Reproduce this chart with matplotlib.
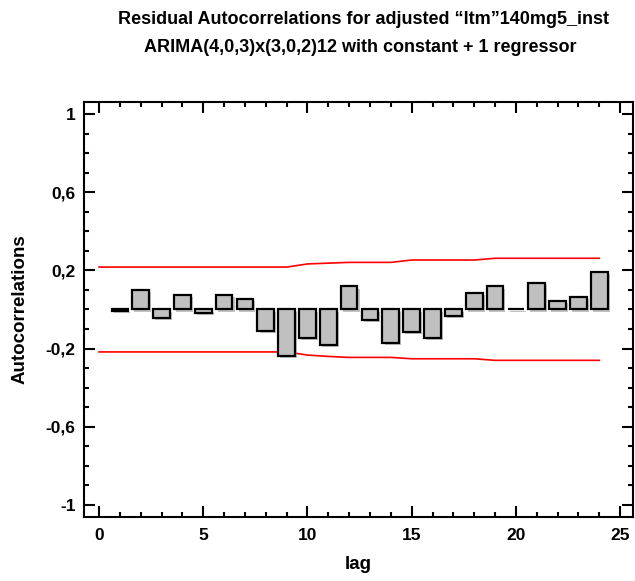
import matplotlib
matplotlib.use("Agg")
import matplotlib.pyplot as plt
import matplotlib.patheffects as pe
from matplotlib.ticker import MultipleLocator, FixedLocator

plt.rcParams["font.family"] = ["Liberation Sans Narrow", "Liberation Sans", "DejaVu Sans"]
plt.rcParams["font.weight"] = "bold"

# residual autocorrelations, lags 1..24
lags = list(range(1, 25))
acf = [-0.008, 0.100, -0.045, 0.073, -0.018, 0.073, 0.054, -0.108,
       -0.236, -0.144, -0.180, 0.118, -0.054, -0.173, -0.117, -0.144,
       -0.035, 0.083, 0.118, 0.003, 0.136, 0.045, 0.062, 0.190]

# probability limits, lags 0..24
limit_lags = list(range(0, 25))
upper = [0.217] * 10 + [0.233, 0.237, 0.241, 0.241, 0.241,
                        0.253, 0.253, 0.253, 0.253,
                        0.262, 0.262, 0.262, 0.262, 0.262, 0.262]
lower = [-0.217] * 10 + [-0.233, -0.240, -0.245, -0.245, -0.245,
                         -0.252, -0.252, -0.252, -0.252,
                         -0.260, -0.260, -0.260, -0.260, -0.260, -0.260]

fig = plt.figure(figsize=(6.35, 5.81), dpi=100)
ax = fig.add_axes([0.1323, 0.1102, 0.8646, 0.7142])

ax.plot(limit_lags, upper, color="red", lw=1.2, zorder=2)
ax.plot(limit_lags, lower, color="red", lw=1.2, zorder=2)

bars = ax.bar(lags, acf, width=0.8, color="#c0c0c0", edgecolor="black",
              linewidth=1.6, zorder=3)
for b in bars:
    b.set_path_effects([pe.SimplePatchShadow(offset=(1.5, -1.5),
                                             shadow_rgbFace="#888888", alpha=0.5),
                        pe.Normal()])

ax.set_xlim(-0.72, 25.62)
ax.set_ylim(-1.061, 1.061)
ax.xaxis.set_major_locator(MultipleLocator(5))
ax.xaxis.set_minor_locator(MultipleLocator(1))
ax.yaxis.set_major_locator(FixedLocator([-1, -0.6, -0.2, 0.2, 0.6, 1]))
ax.yaxis.set_minor_locator(MultipleLocator(0.1))
ax.set_yticklabels(["-1", "-0,6", "-0,2", "0,2", "0,6", "1"])

ax.tick_params(which="both", direction="in", top=True, right=True, width=1.5,
               labelsize=12.5)
ax.tick_params(which="major", length=8)
ax.tick_params(which="minor", length=3.5)
ax.tick_params(axis="x", pad=8)
ax.tick_params(axis="y", pad=6)
for s in ax.spines.values():
    s.set_linewidth(1.5)

ax.set_xlabel("lag", fontsize=13.5, fontweight="bold", labelpad=9)
ax.set_ylabel("Autocorrelations", fontsize=13.5, fontweight="bold", labelpad=12)

fig.text(0.572, 0.966, "Residual Autocorrelations for adjusted \u201cltm\u201d140mg5_inst",
         ha="center", va="center", fontsize=13, fontweight="bold")
fig.text(0.568, 0.919, "ARIMA(4,0,3)x(3,0,2)12 with constant + 1 regressor",
         ha="center", va="center", fontsize=13, fontweight="bold")

fig.savefig("out.png", dpi=100)
